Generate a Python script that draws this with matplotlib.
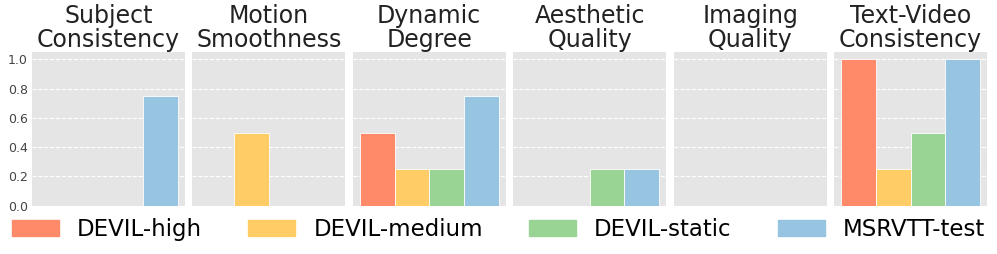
import numpy as np
import matplotlib
matplotlib.use("Agg")
import matplotlib.pyplot as plt

# metrics shown as panels
metrics = ["Subject\nConsistency", "Motion\nSmoothness", "Dynamic\nDegree",
           "Aesthetic\nQuality", "Imaging\nQuality", "Text-Video\nConsistency"]
datasets = ["DEVIL-high", "DEVIL-medium", "DEVIL-static", "MSRVTT-test"]
colors = ["#FF8A69", "#FFCC66", "#99D495", "#96C4E1"]

# one list per dataset, one value per metric
devil_high = [0.0, 0.0, 0.5, 0.0, 0.0, 1.0]
devil_medium = [0.0, 0.5, 0.25, 0.0, 0.0, 0.25]
devil_static = [0.0, 0.0, 0.25, 0.25, 0.0, 0.5]
msrvtt_test = [0.75, 0.0, 0.75, 0.25, 0.0, 1.0]
values = [devil_high, devil_medium, devil_static, msrvtt_test]

fig, axes = plt.subplots(1, 6, figsize=(9.97, 2.54), dpi=100, sharey=True)
fig.subplots_adjust(left=0.032, right=0.99, top=0.795, bottom=0.19, wspace=0.05)

x = np.arange(len(datasets))
for i, ax in enumerate(axes):
    ax.set_facecolor("#E5E5E5")
    for s in ax.spines.values():
        s.set_visible(False)
    ax.grid(True, axis="y", color="white", linestyle="--", linewidth=0.8)
    ax.set_axisbelow(True)
    h = [v[i] for v in values]
    ax.bar(x, h, width=1.0, color=colors, edgecolor="white", linewidth=0.6)
    ax.set_xticks([])
    ax.set_title(metrics[i], fontsize=17, color="#222222", linespacing=1.0, pad=3)
    ax.tick_params(axis="y", length=0, labelsize=9, colors="#444444", pad=3)
    ax.set_ylim(0, 1.05)
    ax.set_yticks([0.0, 0.2, 0.4, 0.6, 0.8, 1.0])

handles = [plt.Rectangle((0, 0), 1, 1, color=c) for c in colors]
fig.legend(handles, datasets, loc="lower center", ncol=4, frameon=False,
           fontsize=16.5, bbox_to_anchor=(0.5, -0.03), handlelength=2.05,
           handleheight=0.75, columnspacing=2.0, handletextpad=0.8)

fig.savefig("out.png", dpi=100)
